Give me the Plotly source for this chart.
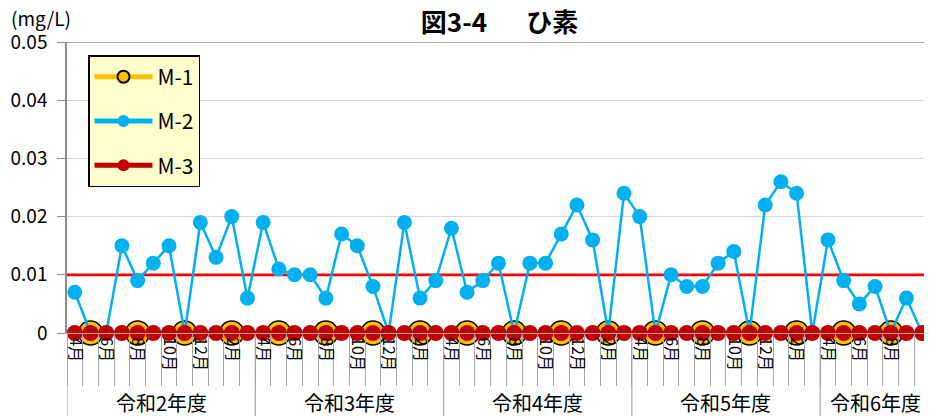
import plotly.graph_objects as go

# ---------------- data ----------------
YEARS = ["令和2年度", "令和3年度", "令和4年度", "令和5年度", "令和6年度"]
MONTHS_FULL = ["4月", "5月", "6月", "7月", "8月", "9月", "10月", "11月", "12月", "1月", "2月", "3月"]
MONTHS_R6 = ["4月", "5月", "6月", "7月", "8月", "9月", "10月"]
MONTH_LABELS = MONTHS_FULL * 4 + MONTHS_R6

M2_R2 = [0.007, 0, 0, 0.015, 0.009, 0.012, 0.015, 0, 0.019, 0.013, 0.020, 0.006]
M2_R3 = [0.019, 0.011, 0.010, 0.010, 0.006, 0.017, 0.015, 0.008, 0, 0.019, 0.006, 0.009]
M2_R4 = [0.018, 0.007, 0.009, 0.012, 0, 0.012, 0.012, 0.017, 0.022, 0.016, 0, 0.024]
M2_R5 = [0.020, 0, 0.010, 0.008, 0.008, 0.012, 0.014, 0, 0.022, 0.026, 0.024, 0]
M2_R6 = [0.016, 0.009, 0.005, 0.008, 0, 0.006, 0]
M2 = M2_R2 + M2_R3 + M2_R4 + M2_R5 + M2_R6

# M-1 measured quarterly (5, 8, 11, 2月), all below detection -> 0
M1_MONTHS = ["5月", "8月", "11月", "2月"]
M1 = [0 if m in M1_MONTHS else None for m in MONTH_LABELS]
# M-3 measured monthly, all 0
M3 = [0] * len(MONTH_LABELS)

STANDARD = 0.01
Y_TICKS = [0, 0.01, 0.02, 0.03, 0.04, 0.05]
Y_TICKTEXT = ["0", "0.01", "0.02", "0.03", "0.04", "0.05"]

N = len(MONTH_LABELS)
X = list(range(N))
YEAR_LENGTHS = [12, 12, 12, 12, len(MONTHS_R6)]
X_RANGE = [-0.5, 54.63]

FONT = "Noto Sans CJK JP"

fig = go.Figure()
# standard value line (drawn first so data sits on top)
fig.add_trace(go.Scatter(
    x=X_RANGE, y=[STANDARD, STANDARD], mode="lines", showlegend=False, hoverinfo="skip",
    line=dict(color="#FF0000", width=2.8)))
fig.add_trace(go.Scatter(
    x=X, y=M1, name="M-1", mode="lines+markers", connectgaps=True,
    line=dict(color="#FFC000", width=2.5),
    marker=dict(color="#FFC000", size=24, line=dict(color="black", width=1.5)),
    cliponaxis=False, legendgroup="1"))
fig.add_trace(go.Scatter(
    x=X, y=M2, name="M-2", mode="lines+markers",
    line=dict(color="#00B0F0", width=2.5),
    marker=dict(color="#00B0F0", size=15),
    cliponaxis=False, legendgroup="2"))
fig.add_trace(go.Scatter(
    x=X, y=M3, name="M-3", mode="lines+markers",
    line=dict(color="#C00000", width=2.5),
    marker=dict(color="#C00000", size=16),
    cliponaxis=False, legendgroup="3"))

# top border
fig.add_shape(type="line", xref="paper", x0=-0.01, x1=1, yref="y", y0=0.05, y1=0.05,
              line=dict(color="#8C8C8C", width=1.5), layer="above")

# year separators and labels
start = 0
for yr, ln in zip(YEARS, YEAR_LENGTHS):
    fig.add_shape(type="line", xref="x", x0=start - 0.5, x1=start - 0.5,
                  yref="paper", y0=0, y1=-0.3, line=dict(color="#A6A6A6", width=1.2))
    fig.add_annotation(xref="x", x=start + (ln - 1) / 2, yref="paper", y=-0.238,
                       text=yr, showarrow=False, font=dict(size=20, color="black", family=FONT),
                       xanchor="center", yanchor="middle")
    start += ln

fig.add_annotation(xref="paper", x=-0.030, yref="paper", y=1.083, text="(mg/L)",
                   showarrow=False, font=dict(size=19, color="black", family=FONT),
                   xanchor="center", yanchor="middle")

fig.update_layout(
    width=924, height=408,
    margin=dict(l=59, r=0, t=34, b=83),
    paper_bgcolor="white", plot_bgcolor="white",
    font=dict(family=FONT, color="black"),
    title=dict(text="<b>図3-4\u3000\u2002ひ素</b>", x=0.5, xref="paper", y=1 - 15 / 408,
               yref="container", yanchor="middle", xanchor="center",
               font=dict(size=26, color="black", family=FONT)),
    showlegend=True,
    legend=dict(x=0.0243, y=0.955, xanchor="left", yanchor="top",
                bgcolor="#FFFFCC", bordercolor="black", borderwidth=1.5,
                font=dict(size=21, color="black", family=FONT),
                traceorder="grouped", tracegroupgap=14, itemsizing="constant",
                itemwidth=58),
)
fig.update_xaxes(
    range=X_RANGE, showgrid=False, zeroline=False, automargin=False,
    showline=True, linecolor="#A6A6A6", linewidth=1,
    tickmode="array", tickvals=X[::2], ticktext=MONTH_LABELS[::2],
    tickangle=90, ticks="", tickfont=dict(size=16, color="black", family=FONT),
    minor=dict(ticks="outside", ticklen=52, tickcolor="#A6A6A6", tickwidth=1,
               tickmode="linear", tick0=-0.5, dtick=1, showgrid=False),
)
fig.update_yaxes(
    range=[0, 0.05], tickmode="array", tickvals=Y_TICKS, ticktext=Y_TICKTEXT,
    showgrid=True, gridcolor="#D9D9D9", gridwidth=1, zeroline=False, automargin=False,
    showline=True, linecolor="#8C8C8C", linewidth=1.5,
    ticks="outside", ticklen=8, tickcolor="#8C8C8C", ticklabelstandoff=6,
    tickfont=dict(size=19, color="black", family=FONT),
)

fig.write_html("out.html")
